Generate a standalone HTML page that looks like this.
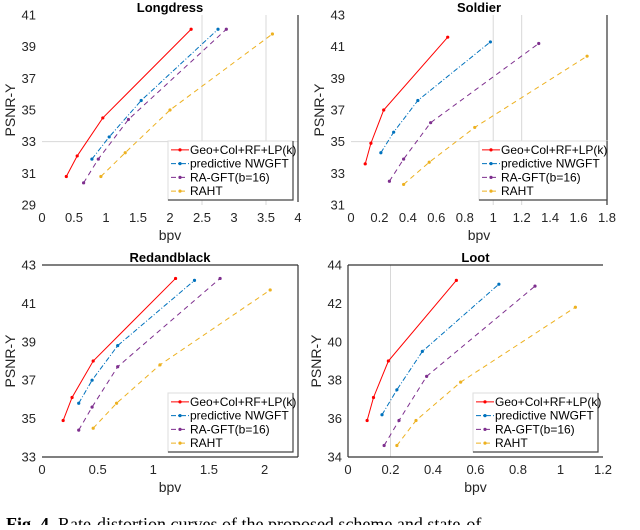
<!DOCTYPE html>
<html><head><meta charset="utf-8"><style>
body{margin:0;background:#fff;width:640px;height:525px;overflow:hidden}
svg text{font-family:"Liberation Sans",Arial,sans-serif}
</style></head><body>
<svg id="fig" width="640" height="525" xmlns="http://www.w3.org/2000/svg">
<text x="6" y="530" font-size="18" style="font-family:'Liberation Serif',serif"><tspan font-weight="bold">Fig. 4.</tspan> Rate-distortion curves of the proposed scheme and state-of</text>
</svg>
<script>
const seriesNames=["Geo+Col+RF+LP(k)","predictive NWGFT","RA-GFT(b=16)","RAHT"];
const ldRedX=[0.38,0.55,0.95,2.33], ldRedY=[30.8,32.1,34.5,40.1];
const ldBlueX=[0.78,1.05,1.55,2.75], ldBlueY=[31.9,33.3,35.6,40.1];
const ldPurX=[0.65,0.88,1.35,2.88], ldPurY=[30.4,31.9,34.4,40.1];
const ldYelX=[0.92,1.3,2.0,3.6], ldYelY=[30.8,32.3,35.0,39.8];
const soRedX=[0.1,0.14,0.23,0.68], soRedY=[33.6,34.9,37.0,41.6];
const soBlueX=[0.21,0.3,0.47,0.98], soBlueY=[34.3,35.6,37.6,41.3];
const soPurX=[0.27,0.37,0.56,1.32], soPurY=[32.5,33.9,36.2,41.2];
const soYelX=[0.37,0.55,0.87,1.66], soYelY=[32.3,33.7,35.9,40.4];
const rbRedX=[0.19,0.27,0.46,1.2], rbRedY=[34.9,36.1,38.0,42.3];
const rbBlueX=[0.33,0.45,0.68,1.37], rbBlueY=[35.8,37.0,38.8,42.2];
const rbPurX=[0.33,0.45,0.68,1.6], rbPurY=[34.4,35.6,37.7,42.3];
const rbYelX=[0.46,0.67,1.06,2.05], rbYelY=[34.5,35.8,37.8,41.7];
const loRedX=[0.09,0.12,0.19,0.51], loRedY=[35.9,37.1,39.0,43.2];
const loBlueX=[0.16,0.23,0.35,0.71], loBlueY=[36.2,37.5,39.5,43.0];
const loPurX=[0.17,0.24,0.37,0.88], loPurY=[34.6,35.9,38.2,42.9];
const loYelX=[0.23,0.32,0.53,1.07], loYelY=[34.6,35.9,37.9,41.8];
const ldXTicks=[0,0.5,1,1.5,2,2.5,3,3.5,4], ldYTicks=[29,31,33,35,37,39,41];
const soXTicks=[0,0.2,0.4,0.6,0.8,1,1.2,1.4,1.6,1.8], soYTicks=[31,33,35,37,39,41,43];
const rbXTicks=[0,0.5,1,1.5,2], rbYTicks=[33,35,37,39,41,43];
const loXTicks=[0,0.2,0.4,0.6,0.8,1,1.2], loYTicks=[34,36,38,40,42,44];

const NS="http://www.w3.org/2000/svg";
const svg=document.getElementById('fig');
function mk(tag,attrs,parent){const e=document.createElementNS(NS,tag);for(const k in attrs)e.setAttribute(k,attrs[k]);(parent||svg).appendChild(e);return e;}
const colors=["#ff0000","#0072bd","#7e2f8e","#edb120"];
const dashes=["","5,2,1,2","5,4","5,4"];
function panel(p){
  const g=mk('g',{});
  
  
  const sx=v=>p.x0+(v-p.xmin)/(p.xmax-p.xmin)*(p.x1-p.x0);
  const sy=v=>p.y1-(v-p.ymin)/(p.ymax-p.ymin)*(p.y1-p.y0);
  p.gx.forEach(v=>mk('line',{x1:sx(v),x2:sx(v),y1:p.y0,y2:p.y1,stroke:'#d8d8d8','stroke-width':1},g));
  p.gy.forEach(v=>mk('line',{x1:p.x0,x2:p.x1,y1:sy(v),y2:sy(v),stroke:'#d8d8d8','stroke-width':1},g));
  p.lines.forEach(l=>{mk('line',{x1:l[0],y1:l[1],x2:l[2],y2:l[3],stroke:'#333','stroke-width':1.2},g);});
  p.xt.forEach(v=>{const t=mk('text',{x:sx(v),y:p.y1+17,'text-anchor':'middle','font-size':13,fill:'#262626'},g);t.textContent=v;
    
    });
  p.yt.forEach(v=>{const t=mk('text',{x:p.x0-6,y:sy(v)+4.5,'text-anchor':'end','font-size':13,fill:'#262626'},g);t.textContent=v;
    
    });
  const tt=mk('text',{x:(p.x0+p.x1)/2,y:p.y0-3,'text-anchor':'middle','font-size':13,'font-weight':'bold',fill:'#000'},g);tt.textContent=p.title;
  
  
  const xl=mk('text',{x:(p.x0+p.x1)/2,y:p.y1+35,'text-anchor':'middle','font-size':14,fill:'#262626'},g);xl.textContent='bpv';
  
  
  if(p.ylab){const yl=mk('text',{x:0,y:0,'text-anchor':'middle','font-size':14,fill:'#262626',transform:`translate(${p.x0-27},${(p.y0+p.y1)/2}) rotate(-90)`},g);yl.textContent='PSNR-Y';
  
  }
  p.series.forEach((s,i)=>{
    const pts=s[0].map((x,j)=>sx(x)+','+sy(s[1][j])).join(' ');
    const pl=mk('polyline',{points:pts,fill:'none',stroke:colors[i],'stroke-width':1,'stroke-dasharray':dashes[i]},g);
    
    
    s[0].forEach((x,j)=>{const c=mk('circle',{cx:sx(x),cy:sy(s[1][j]),r:1.6,fill:colors[i]},g);
      
      });
  });
  const lg=mk('g',{},g);
  
  
  const [lx,ly,lw,lh]=p.leg;
  mk('rect',{x:lx,y:ly,width:lw,height:lh,fill:'#fff',stroke:'#ddd','stroke-width':1},lg);
  mk('polyline',{points:`${lx+lw},${ly} ${lx+lw},${ly+lh} ${lx},${ly+lh}`,fill:'none',stroke:'#444','stroke-width':1.2},lg);
  const step=(lh-4)/4;
  seriesNames.forEach((n,i)=>{const yy=ly+2+step*(i+0.5);
    mk('line',{x1:lx+3,x2:lx+21,y1:yy,y2:yy,stroke:colors[i],'stroke-width':1,'stroke-dasharray':dashes[i]},lg);
    mk('circle',{cx:lx+12,cy:yy,r:1.6,fill:colors[i]},lg);
    const t=mk('text',{x:lx+22,y:yy+4,'font-size':12,fill:'#000'},lg);t.textContent=n;
    
    });
}
panel({key:'longdress',title:'Longdress',x0:42,x1:298,y0:15,y1:205,xmin:0,xmax:4,ymin:29,ymax:41,ylab:true,
  gx:[2.5,3.5],gy:[33],xt:ldXTicks,yt:ldYTicks,lines:[[298,15,298,202]],leg:[168,141,125,59],
  series:[[ldRedX,ldRedY],[ldBlueX,ldBlueY],[ldPurX,ldPurY],[ldYelX,ldYelY]]});
panel({key:'soldier',title:'Soldier',x0:351,x1:607,y0:15,y1:205,xmin:0,xmax:1.8,ymin:31,ymax:43,ylab:true,
  gx:[1,1.2],gy:[35],xt:soXTicks,yt:soYTicks,lines:[[607,15,607,205]],leg:[479,141,128,59],
  series:[[soRedX,soRedY],[soBlueX,soBlueY],[soPurX,soPurY],[soYelX,soYelY]]});
panel({key:'redandblack',title:'Redandblack',x0:42,x1:298,y0:265,y1:457,xmin:0,xmax:2.3,ymin:33,ymax:43,ylab:true,
  gx:[],gy:[],xt:rbXTicks,yt:rbYTicks,lines:[[42,265,298,265],[298,265,298,457],[42,457,298,457]],leg:[168,393,125,59],
  series:[[rbRedX,rbRedY],[rbBlueX,rbBlueY],[rbPurX,rbPurY],[rbYelX,rbYelY]]});
panel({key:'loot',title:'Loot',x0:348,x1:603,y0:265,y1:457,xmin:0,xmax:1.2,ymin:34,ymax:44,ylab:true,
  gx:[0.2],gy:[],xt:loXTicks,yt:loYTicks,lines:[[348,265,603,265],[348,265,348,457],[348,457,603,457]],leg:[473,393,125,59],
  series:[[loRedX,loRedY],[loBlueX,loBlueY],[loPurX,loPurY],[loYelX,loYelY]]});
</script>
</body></html>
